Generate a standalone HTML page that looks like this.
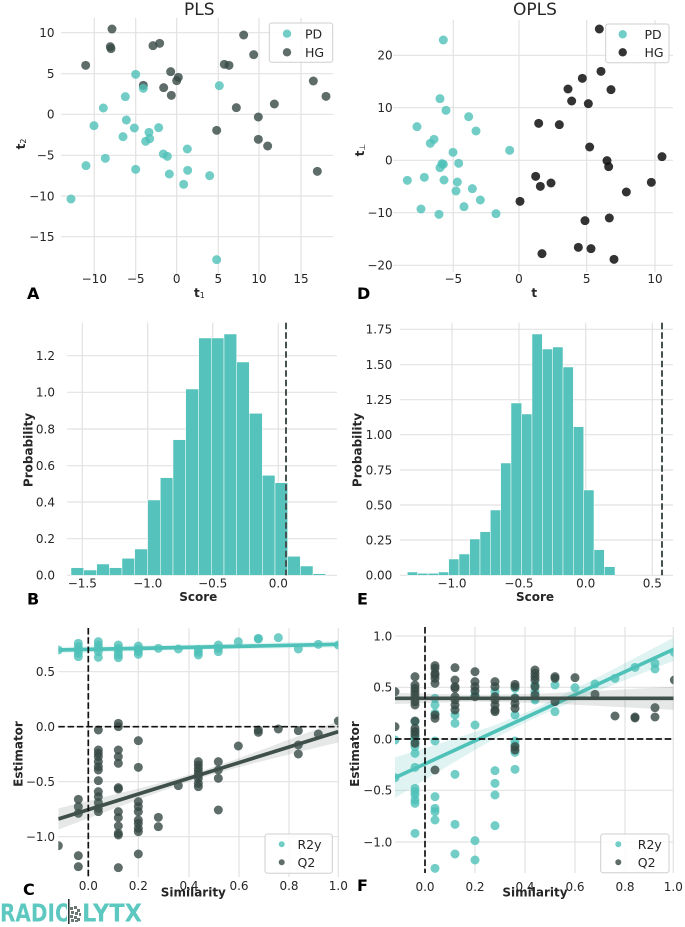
<!DOCTYPE html>
<html>
<head>
<meta charset="utf-8">
<style>
  html,body{margin:0;padding:0;background:#fff;}
  svg{display:block;}
  text{font-family:"DejaVu Sans","Liberation Sans",sans-serif;fill:#262626;}
  .tk{font-size:12px;}
  .lb{font-size:12px;font-weight:bold;}
  .pl{font-size:16px;font-weight:bold;fill:#000;}
  .tt{font-size:17px;}
  .lg{font-size:12.5px;}
</style>
</head>
<body>
<svg width="685" height="927" viewBox="0 0 685 927" xmlns="http://www.w3.org/2000/svg">
<defs>
  <clipPath id="clipC"><rect x="58.3" y="628" width="280" height="249"/></clipPath>
  <clipPath id="clipF"><rect x="395" y="627" width="278.5" height="246"/></clipPath>
</defs>
<rect width="685" height="927" fill="#fff"/>

<!-- ================= PANEL A ================= -->
<g stroke="#e2e2e2" stroke-width="1.2">
  <line x1="94.3" y1="18" x2="94.3" y2="280"/>
  <line x1="135.7" y1="18" x2="135.7" y2="280"/>
  <line x1="176.7" y1="18" x2="176.7" y2="280"/>
  <line x1="218.3" y1="18" x2="218.3" y2="280"/>
  <line x1="259" y1="18" x2="259" y2="280"/>
  <line x1="301" y1="18" x2="301" y2="280"/>
  <line x1="61" y1="32.7" x2="333" y2="32.7"/>
  <line x1="61" y1="73.7" x2="333" y2="73.7"/>
  <line x1="61" y1="114.3" x2="333" y2="114.3"/>
  <line x1="61" y1="155.3" x2="333" y2="155.3"/>
  <line x1="61" y1="196" x2="333" y2="196"/>
  <line x1="61" y1="236.7" x2="333" y2="236.7"/>
</g>
<text class="tt" x="199.3" y="15" text-anchor="middle">PLS</text>
<g text-anchor="middle">
  <text class="tk" x="94.3" y="283">−10</text>
  <text class="tk" x="135.7" y="283">−5</text>
  <text class="tk" x="176.7" y="283">0</text>
  <text class="tk" x="218.3" y="283">5</text>
  <text class="tk" x="259" y="283">10</text>
  <text class="tk" x="301" y="283">15</text>
</g>
<g text-anchor="end">
  <text class="tk" x="54.5" y="37">10</text>
  <text class="tk" x="54.5" y="78">5</text>
  <text class="tk" x="54.5" y="118.6">0</text>
  <text class="tk" x="54.5" y="159.6">−5</text>
  <text class="tk" x="54.5" y="200.3">−10</text>
  <text class="tk" x="54.5" y="241">−15</text>
</g>
<text class="lb" x="194" y="297">t<tspan font-size="8" font-weight="normal" dy="1">1</tspan></text>
<text class="lb" transform="rotate(-90 25 144)" x="25" y="144" text-anchor="middle">t<tspan font-size="8" font-weight="normal" dy="1">2</tspan></text>
<text class="pl" x="27" y="299">A</text>

<g transform="scale(0.33333)">
  <g fill="#364843" fill-opacity="0.8">
    <circle cx="336" cy="87" r="13.5"/><circle cx="331" cy="140" r="13.5"/><circle cx="333" cy="146" r="13.5"/>
    <circle cx="257" cy="196" r="13.5"/><circle cx="459" cy="137" r="13.5"/><circle cx="479" cy="130" r="13.5"/>
    <circle cx="430" cy="256" r="13.5"/><circle cx="512" cy="215" r="13.5"/><circle cx="535" cy="232" r="13.5"/>
    <circle cx="530" cy="242" r="13.5"/><circle cx="491" cy="263" r="13.5"/><circle cx="514" cy="286" r="13.5"/>
    <circle cx="731" cy="105" r="13.5"/><circle cx="761" cy="164" r="13.5"/><circle cx="673" cy="193" r="13.5"/>
    <circle cx="687" cy="196" r="13.5"/><circle cx="940" cy="243" r="13.5"/><circle cx="978" cy="289" r="13.5"/>
    <circle cx="823" cy="312" r="13.5"/><circle cx="709" cy="323" r="13.5"/><circle cx="775" cy="351" r="13.5"/>
    <circle cx="650" cy="391" r="13.5"/><circle cx="775" cy="418" r="13.5"/><circle cx="803" cy="438" r="13.5"/>
    <circle cx="952" cy="514" r="13.5"/>
  </g>
  <g fill="#4ec1b8" fill-opacity="0.8">
    <circle cx="407" cy="223" r="13.5"/><circle cx="430" cy="265" r="13.5"/><circle cx="376" cy="290" r="13.5"/>
    <circle cx="310" cy="324" r="13.5"/><circle cx="379" cy="360" r="13.5"/><circle cx="282" cy="377" r="13.5"/>
    <circle cx="403" cy="384" r="13.5"/><circle cx="447" cy="397" r="13.5"/><circle cx="476" cy="383" r="13.5"/>
    <circle cx="369" cy="410" r="13.5"/><circle cx="437" cy="424" r="13.5"/><circle cx="449" cy="416" r="13.5"/>
    <circle cx="490" cy="462" r="13.5"/><circle cx="502" cy="469" r="13.5"/><circle cx="562" cy="447" r="13.5"/>
    <circle cx="316" cy="475" r="13.5"/><circle cx="258" cy="497" r="13.5"/><circle cx="407" cy="508" r="13.5"/>
    <circle cx="508" cy="522" r="13.5"/><circle cx="563" cy="511" r="13.5"/><circle cx="629" cy="527" r="13.5"/>
    <circle cx="551" cy="553" r="13.5"/><circle cx="213" cy="597" r="13.5"/><circle cx="650" cy="779" r="13.5"/>
    <circle cx="658" cy="257" r="13.5"/>
  </g>
</g>
<rect x="269.3" y="23" width="63.4" height="39.3" rx="2.5" fill="#fff" fill-opacity="0.85" stroke="#cfcfcf" stroke-width="1"/>
<circle cx="287" cy="33.7" r="4.2" fill="#4ec1b8" fill-opacity="0.8"/>
<circle cx="287" cy="52.3" r="4.2" fill="#364843" fill-opacity="0.8"/>
<text class="lg" x="305" y="38.3">PD</text>
<text class="lg" x="305" y="56.8">HG</text>

<!-- ================= PANEL D ================= -->
<g stroke="#e2e2e2" stroke-width="1.2">
  <line x1="453.3" y1="20" x2="453.3" y2="272"/>
  <line x1="519" y1="20" x2="519" y2="272"/>
  <line x1="586.7" y1="20" x2="586.7" y2="272"/>
  <line x1="655" y1="20" x2="655" y2="272"/>
  <line x1="393" y1="55.3" x2="673" y2="55.3"/>
  <line x1="393" y1="107.7" x2="673" y2="107.7"/>
  <line x1="393" y1="160.3" x2="673" y2="160.3"/>
  <line x1="393" y1="212.7" x2="673" y2="212.7"/>
  <line x1="393" y1="265.3" x2="673" y2="265.3"/>
</g>
<text class="tt" x="535" y="15" text-anchor="middle">OPLS</text>
<g text-anchor="middle">
  <text class="tk" x="453.3" y="283">−5</text>
  <text class="tk" x="519" y="283">0</text>
  <text class="tk" x="586.7" y="283">5</text>
  <text class="tk" x="655" y="283">10</text>
</g>
<g text-anchor="end">
  <text class="tk" x="392.7" y="59.6">20</text>
  <text class="tk" x="392.7" y="112">10</text>
  <text class="tk" x="392.7" y="164.6">0</text>
  <text class="tk" x="392.7" y="217">−10</text>
  <text class="tk" x="392.7" y="269.6">−20</text>
</g>
<text class="lb" x="534.3" y="297" text-anchor="middle">t</text>
<text class="lb" transform="rotate(-90 364 150)" x="364" y="150" text-anchor="middle">t<tspan font-size="8" font-weight="normal" dy="1">⊥</tspan></text>
<text class="pl" x="357" y="299">D</text>

<g transform="translate(340,0) scale(0.33333)">
  <g fill="#4ec1b8" fill-opacity="0.8">
    <circle cx="310" cy="120" r="13.5"/><circle cx="300" cy="296" r="13.5"/><circle cx="318" cy="331" r="13.5"/>
    <circle cx="386" cy="350" r="13.5"/><circle cx="231" cy="380" r="13.5"/><circle cx="408" cy="393" r="13.5"/>
    <circle cx="282" cy="418" r="13.5"/><circle cx="271" cy="430" r="13.5"/><circle cx="339" cy="457" r="13.5"/>
    <circle cx="509" cy="451" r="13.5"/><circle cx="306" cy="491" r="13.5"/><circle cx="300" cy="503" r="13.5"/>
    <circle cx="310" cy="493" r="13.5"/><circle cx="356" cy="490" r="13.5"/><circle cx="202" cy="541" r="13.5"/>
    <circle cx="253" cy="532" r="13.5"/><circle cx="312" cy="540" r="13.5"/><circle cx="352" cy="546" r="13.5"/>
    <circle cx="348" cy="573" r="13.5"/><circle cx="397" cy="566" r="13.5"/><circle cx="372" cy="620" r="13.5"/>
    <circle cx="421" cy="600" r="13.5"/><circle cx="243" cy="627" r="13.5"/><circle cx="297" cy="643" r="13.5"/>
    <circle cx="468" cy="641" r="13.5"/>
  </g>
  <g fill="#111" fill-opacity="0.86">
    <circle cx="778" cy="87" r="13.5"/><circle cx="783" cy="214" r="13.5"/><circle cx="727" cy="235" r="13.5"/>
    <circle cx="684" cy="267" r="13.5"/><circle cx="813" cy="269" r="13.5"/><circle cx="695" cy="303" r="13.5"/>
    <circle cx="745" cy="311" r="13.5"/><circle cx="596" cy="370" r="13.5"/><circle cx="658" cy="374" r="13.5"/>
    <circle cx="749" cy="441" r="13.5"/><circle cx="801" cy="482" r="13.5"/><circle cx="806" cy="500" r="13.5"/>
    <circle cx="966" cy="470" r="13.5"/><circle cx="587" cy="529" r="13.5"/><circle cx="601" cy="559" r="13.5"/>
    <circle cx="633" cy="549" r="13.5"/><circle cx="859" cy="576" r="13.5"/><circle cx="934" cy="547" r="13.5"/>
    <circle cx="540" cy="604" r="13.5"/><circle cx="735" cy="662" r="13.5"/><circle cx="808" cy="654" r="13.5"/>
    <circle cx="715" cy="742" r="13.5"/><circle cx="753" cy="746" r="13.5"/><circle cx="606" cy="761" r="13.5"/>
    <circle cx="822" cy="778" r="13.5"/>
  </g>
</g>
<rect x="605.7" y="24" width="63.3" height="38.7" rx="2.5" fill="#fff" fill-opacity="0.85" stroke="#cfcfcf" stroke-width="1"/>
<circle cx="622.7" cy="34.3" r="4.2" fill="#4ec1b8" fill-opacity="0.8"/>
<circle cx="622.7" cy="52.3" r="4.2" fill="#111" fill-opacity="0.86"/>
<text class="lg" x="644.5" y="38.8">PD</text>
<text class="lg" x="644.5" y="56.8">HG</text>

<!-- ================= PANEL B ================= -->
<g stroke="#e2e2e2" stroke-width="1.2">
  <line x1="82.3" y1="322.7" x2="82.3" y2="575.3"/>
  <line x1="147.7" y1="322.7" x2="147.7" y2="575.3"/>
  <line x1="212.7" y1="322.7" x2="212.7" y2="575.3"/>
  <line x1="278.3" y1="322.7" x2="278.3" y2="575.3"/>
  <line x1="67" y1="575.3" x2="337" y2="575.3"/>
  <line x1="67" y1="538.7" x2="337" y2="538.7"/>
  <line x1="67" y1="502" x2="337" y2="502"/>
  <line x1="67" y1="465.7" x2="337" y2="465.7"/>
  <line x1="67" y1="429" x2="337" y2="429"/>
  <line x1="67" y1="392.3" x2="337" y2="392.3"/>
  <line x1="67" y1="355.7" x2="337" y2="355.7"/>
</g>
<g transform="translate(0,300) scale(0.33333)" fill="#55c3bc" stroke="#ffffff" stroke-width="1.5">
  <rect x="213" y="803" width="38" height="23"/>
  <rect x="251" y="810" width="39" height="16"/>
  <rect x="290" y="792" width="38" height="34"/>
  <rect x="328" y="803" width="38" height="23"/>
  <rect x="366" y="775" width="38" height="51"/>
  <rect x="404" y="747" width="39" height="79"/>
  <rect x="443" y="600" width="38" height="226"/>
  <rect x="481" y="533" width="38" height="293"/>
  <rect x="519" y="419" width="38" height="407"/>
  <rect x="557" y="267" width="39" height="559"/>
  <rect x="596" y="114" width="38" height="712"/>
  <rect x="634" y="114" width="38" height="712"/>
  <rect x="672" y="102" width="38" height="724"/>
  <rect x="710" y="186" width="38" height="640"/>
  <rect x="748" y="340" width="39" height="486"/>
  <rect x="787" y="526" width="38" height="300"/>
  <rect x="825" y="548" width="38" height="278"/>
  <rect x="863" y="769" width="38" height="57"/>
  <rect x="901" y="798" width="38" height="28"/>
  <rect x="939" y="821" width="38" height="5"/>
</g>
<line x1="286" y1="322.7" x2="286" y2="575.3" stroke="#44534f" stroke-width="2" stroke-dasharray="6.5,3"/>
<g text-anchor="middle">
  <text class="tk" x="82.3" y="587.5">−1.5</text>
  <text class="tk" x="147.7" y="587.5">−1.0</text>
  <text class="tk" x="212.7" y="587.5">−0.5</text>
  <text class="tk" x="278.3" y="587.5">0.0</text>
</g>
<g text-anchor="end">
  <text class="tk" x="55" y="579.6">0.0</text>
  <text class="tk" x="55" y="543">0.2</text>
  <text class="tk" x="55" y="506.3">0.4</text>
  <text class="tk" x="55" y="470">0.6</text>
  <text class="tk" x="55" y="433.3">0.8</text>
  <text class="tk" x="55" y="396.6">1.0</text>
  <text class="tk" x="55" y="360">1.2</text>
</g>
<text class="lb" x="198.3" y="601" text-anchor="middle">Score</text>
<text class="lb" transform="rotate(-90 32.5 450)" x="32.5" y="450" text-anchor="middle">Probability</text>
<text class="pl" x="27" y="604.5">B</text>

<!-- ================= PANEL E ================= -->
<g stroke="#e2e2e2" stroke-width="1.2">
  <line x1="452" y1="322.7" x2="452" y2="575.3"/>
  <line x1="519" y1="322.7" x2="519" y2="575.3"/>
  <line x1="585.7" y1="322.7" x2="585.7" y2="575.3"/>
  <line x1="652.3" y1="322.7" x2="652.3" y2="575.3"/>
  <line x1="400" y1="575.3" x2="673" y2="575.3"/>
  <line x1="400" y1="540" x2="673" y2="540"/>
  <line x1="400" y1="505" x2="673" y2="505"/>
  <line x1="400" y1="470" x2="673" y2="470"/>
  <line x1="400" y1="434.7" x2="673" y2="434.7"/>
  <line x1="400" y1="399.7" x2="673" y2="399.7"/>
  <line x1="400" y1="364.7" x2="673" y2="364.7"/>
  <line x1="400" y1="329.3" x2="673" y2="329.3"/>
</g>
<g transform="translate(340,300) scale(0.33333)" fill="#55c3bc" stroke="#ffffff" stroke-width="1.5">
  <rect x="202" y="816" width="31" height="10"/>
  <rect x="233" y="820" width="31" height="6"/>
  <rect x="264" y="820" width="31" height="6"/>
  <rect x="295" y="816" width="31" height="10"/>
  <rect x="326" y="777" width="31" height="49"/>
  <rect x="357" y="762" width="32" height="64"/>
  <rect x="389" y="717" width="31" height="109"/>
  <rect x="420" y="695" width="31" height="131"/>
  <rect x="451" y="630" width="31" height="196"/>
  <rect x="482" y="489" width="31" height="337"/>
  <rect x="513" y="309" width="32" height="517"/>
  <rect x="545" y="342" width="31" height="484"/>
  <rect x="576" y="102" width="31" height="724"/>
  <rect x="607" y="147" width="31" height="679"/>
  <rect x="638" y="141" width="31" height="685"/>
  <rect x="669" y="201" width="31" height="625"/>
  <rect x="700" y="380" width="31" height="446"/>
  <rect x="731" y="570" width="31" height="256"/>
  <rect x="762" y="749" width="31" height="77"/>
  <rect x="793" y="800" width="32" height="26"/>
</g>
<line x1="662" y1="322.7" x2="662" y2="575.3" stroke="#44534f" stroke-width="2" stroke-dasharray="6.5,3"/>
<g text-anchor="middle">
  <text class="tk" x="452" y="587.5">−1.0</text>
  <text class="tk" x="519" y="587.5">−0.5</text>
  <text class="tk" x="585.7" y="587.5">0.0</text>
  <text class="tk" x="652.3" y="587.5">0.5</text>
</g>
<g text-anchor="end">
  <text class="tk" x="392.3" y="579.6">0.00</text>
  <text class="tk" x="392.3" y="544.3">0.25</text>
  <text class="tk" x="392.3" y="509.3">0.50</text>
  <text class="tk" x="392.3" y="474.3">0.75</text>
  <text class="tk" x="392.3" y="439">1.00</text>
  <text class="tk" x="392.3" y="404">1.25</text>
  <text class="tk" x="392.3" y="369">1.50</text>
  <text class="tk" x="392.3" y="333.6">1.75</text>
</g>
<text class="lb" x="535" y="601" text-anchor="middle">Score</text>
<text class="lb" transform="rotate(-90 361.5 450)" x="361.5" y="450" text-anchor="middle">Probability</text>
<text class="pl" x="357" y="604.5">E</text>

<!-- ================= PANEL C ================= -->
<g stroke="#e2e2e2" stroke-width="1.2">
  <line x1="88.3" y1="628" x2="88.3" y2="877"/>
  <line x1="138.3" y1="628" x2="138.3" y2="877"/>
  <line x1="189" y1="628" x2="189" y2="877"/>
  <line x1="239" y1="628" x2="239" y2="877"/>
  <line x1="289" y1="628" x2="289" y2="877"/>
  <line x1="338.3" y1="628" x2="338.3" y2="877"/>
  <line x1="58" y1="671.7" x2="338" y2="671.7"/>
  <line x1="58" y1="726.7" x2="338" y2="726.7"/>
  <line x1="58" y1="781.7" x2="338" y2="781.7"/>
  <line x1="58" y1="836.7" x2="338" y2="836.7"/>
</g>
<g clip-path="url(#clipC)">
<g transform="translate(0,615) scale(0.33333)">
  <g fill="#4ec1b8" fill-opacity="0.8">
    <circle cx="175" cy="105" r="13.5"/>
    <circle cx="235" cy="85" r="13.5"/><circle cx="235" cy="95" r="13.5"/><circle cx="235" cy="105" r="13.5"/><circle cx="235" cy="115" r="13.5"/><circle cx="235" cy="125" r="13.5"/>
    <circle cx="295" cy="80" r="13.5"/><circle cx="295" cy="90" r="13.5"/><circle cx="295" cy="100" r="13.5"/><circle cx="295" cy="110" r="13.5"/><circle cx="295" cy="127" r="13.5"/>
    <circle cx="355" cy="90" r="13.5"/><circle cx="355" cy="100" r="13.5"/><circle cx="355" cy="110" r="13.5"/><circle cx="355" cy="120" r="13.5"/><circle cx="355" cy="128" r="13.5"/>
    <circle cx="415" cy="93" r="13.5"/><circle cx="415" cy="102" r="13.5"/><circle cx="415" cy="110" r="13.5"/><circle cx="415" cy="118" r="13.5"/>
    <circle cx="475" cy="100" r="13.5"/>
    <circle cx="535" cy="102" r="13.5"/>
    <circle cx="595" cy="103" r="13.5"/><circle cx="595" cy="112" r="13.5"/><circle cx="595" cy="120" r="13.5"/>
    <circle cx="655" cy="90" r="13.5"/><circle cx="655" cy="100" r="13.5"/><circle cx="655" cy="110" r="13.5"/>
    <circle cx="715" cy="80" r="13.5"/>
    <circle cx="775" cy="70" r="13.5"/><circle cx="775" cy="72" r="13.5"/>
    <circle cx="835" cy="68" r="13.5"/>
    <circle cx="895" cy="102" r="13.5"/>
    <circle cx="955" cy="88" r="13.5"/>
    <circle cx="1015" cy="90" r="13.5"/>
  </g>
  <path d="M175,95 L595,88 L1015,78 L1015,98 L595,104 L175,115 Z" fill="#4ec1b8" fill-opacity="0.15"/>
  <line x1="175" y1="105" x2="1015" y2="88" stroke="#4ec1b8" stroke-width="11"/>
  <g fill="#364843" fill-opacity="0.8">
    <circle cx="175" cy="692" r="13.5"/>
    <circle cx="235" cy="553" r="13.5"/><circle cx="235" cy="575" r="13.5"/><circle cx="235" cy="595" r="13.5"/><circle cx="235" cy="722" r="13.5"/><circle cx="235" cy="755" r="13.5"/>
    <circle cx="295" cy="345" r="13.5"/><circle cx="295" cy="405" r="13.5"/><circle cx="295" cy="415" r="13.5"/><circle cx="295" cy="425" r="13.5"/><circle cx="295" cy="440" r="13.5"/><circle cx="295" cy="455" r="13.5"/><circle cx="295" cy="465" r="13.5"/><circle cx="295" cy="497" r="13.5"/><circle cx="295" cy="530" r="13.5"/><circle cx="295" cy="545" r="13.5"/><circle cx="295" cy="563" r="13.5"/><circle cx="295" cy="580" r="13.5"/><circle cx="295" cy="590" r="13.5"/>
    <circle cx="355" cy="325" r="13.5"/><circle cx="355" cy="335" r="13.5"/><circle cx="355" cy="405" r="13.5"/><circle cx="355" cy="425" r="13.5"/><circle cx="355" cy="445" r="13.5"/><circle cx="355" cy="518" r="13.5"/><circle cx="355" cy="522" r="13.5"/><circle cx="355" cy="590" r="13.5"/><circle cx="355" cy="608" r="13.5"/><circle cx="355" cy="633" r="13.5"/><circle cx="355" cy="655" r="13.5"/><circle cx="355" cy="660" r="13.5"/><circle cx="355" cy="758" r="13.5"/>
    <circle cx="415" cy="377" r="13.5"/><circle cx="415" cy="457" r="13.5"/><circle cx="415" cy="560" r="13.5"/><circle cx="415" cy="575" r="13.5"/><circle cx="415" cy="590" r="13.5"/><circle cx="415" cy="615" r="13.5"/><circle cx="415" cy="625" r="13.5"/><circle cx="415" cy="640" r="13.5"/><circle cx="415" cy="650" r="13.5"/><circle cx="415" cy="717" r="13.5"/>
    <circle cx="475" cy="607" r="13.5"/><circle cx="475" cy="635" r="13.5"/>
    <circle cx="535" cy="512" r="13.5"/>
    <circle cx="595" cy="440" r="13.5"/><circle cx="595" cy="450" r="13.5"/><circle cx="595" cy="460" r="13.5"/><circle cx="595" cy="470" r="13.5"/><circle cx="595" cy="480" r="13.5"/><circle cx="595" cy="490" r="13.5"/><circle cx="595" cy="505" r="13.5"/><circle cx="595" cy="515" r="13.5"/>
    <circle cx="655" cy="440" r="13.5"/><circle cx="655" cy="465" r="13.5"/><circle cx="655" cy="490" r="13.5"/><circle cx="655" cy="585" r="13.5"/>
    <circle cx="715" cy="393" r="13.5"/>
    <circle cx="775" cy="345" r="13.5"/><circle cx="775" cy="352" r="13.5"/>
    <circle cx="835" cy="342" r="13.5"/>
    <circle cx="895" cy="347" r="13.5"/><circle cx="895" cy="390" r="13.5"/><circle cx="895" cy="417" r="13.5"/>
    <circle cx="955" cy="357" r="13.5"/>
    <circle cx="1015" cy="318" r="13.5"/>
  </g>
  <path d="M175,580 L280,554.4 L385,528.3 L490,501.2 L595,471 L700,435.7 L805,397.3 L910,357.9 L1015,318 L1015,382 L910,407.7 L805,433.7 L700,460.9 L595,491 L490,526.4 L385,564.7 L280,604.2 L175,644 Z" fill="#5f6f6a" fill-opacity="0.16"/>
  <line x1="175" y1="612" x2="1015" y2="350" stroke="#3f4f4a" stroke-width="11"/>
</g>
</g>
<g stroke="#111" stroke-width="1.7" stroke-dasharray="6.5,2.8">
  <line x1="88.3" y1="628" x2="88.3" y2="877"/>
  <line x1="58.3" y1="726.7" x2="338.3" y2="726.7"/>
</g>
<g text-anchor="middle">
  <text class="tk" x="88.3" y="890">0.0</text>
  <text class="tk" x="138.3" y="890">0.2</text>
  <text class="tk" x="189" y="890">0.4</text>
  <text class="tk" x="239" y="890">0.6</text>
  <text class="tk" x="289" y="890">0.8</text>
  <text class="tk" x="338.3" y="890">1.0</text>
</g>
<g text-anchor="end">
  <text class="tk" x="55" y="676">0.5</text>
  <text class="tk" x="55" y="731">0.0</text>
  <text class="tk" x="55" y="786">−0.5</text>
  <text class="tk" x="55" y="841">−1.0</text>
</g>
<text class="lb" x="193.3" y="896.5" text-anchor="middle">Similarity</text>
<text class="lb" transform="rotate(-90 22.5 754)" x="22.5" y="754" text-anchor="middle">Estimator</text>
<text class="pl" x="23" y="895">C</text>
<rect x="265" y="834" width="67.3" height="39.3" rx="2.5" fill="#fff" fill-opacity="0.85" stroke="#cfcfcf" stroke-width="1"/>
<circle cx="281.7" cy="844.3" r="3" fill="#4ec1b8" fill-opacity="0.8"/>
<circle cx="281.7" cy="862.3" r="3" fill="#364843" fill-opacity="0.8"/>
<text class="lg" x="297.5" y="848.8">R2y</text>
<text class="lg" x="297.5" y="866.8">Q2</text>

<!-- ================= PANEL F ================= -->
<g stroke="#e2e2e2" stroke-width="1.2">
  <line x1="425" y1="627" x2="425" y2="873"/>
  <line x1="475" y1="627" x2="475" y2="873"/>
  <line x1="525" y1="627" x2="525" y2="873"/>
  <line x1="575" y1="627" x2="575" y2="873"/>
  <line x1="625" y1="627" x2="625" y2="873"/>
  <line x1="673.3" y1="627" x2="673.3" y2="873"/>
  <line x1="395" y1="636" x2="673" y2="636"/>
  <line x1="395" y1="687.3" x2="673" y2="687.3"/>
  <line x1="395" y1="739" x2="673" y2="739"/>
  <line x1="395" y1="790.3" x2="673" y2="790.3"/>
  <line x1="395" y1="842" x2="673" y2="842"/>
</g>
<g clip-path="url(#clipF)">
<g transform="translate(340,615) scale(0.33333)">
  <g fill="#4ec1b8" fill-opacity="0.8">
    <circle cx="165" cy="375" r="13.5"/><circle cx="165" cy="488" r="13.5"/>
    <circle cx="225" cy="320" r="13.5"/><circle cx="225" cy="350" r="13.5"/><circle cx="225" cy="365" r="13.5"/><circle cx="225" cy="370" r="13.5"/><circle cx="225" cy="380" r="13.5"/><circle cx="225" cy="395" r="13.5"/><circle cx="225" cy="415" r="13.5"/><circle cx="225" cy="457" r="13.5"/><circle cx="225" cy="520" r="13.5"/><circle cx="225" cy="530" r="13.5"/><circle cx="225" cy="540" r="13.5"/><circle cx="225" cy="555" r="13.5"/><circle cx="225" cy="565" r="13.5"/><circle cx="225" cy="655" r="13.5"/>
    <circle cx="285" cy="250" r="13.5"/><circle cx="285" cy="270" r="13.5"/><circle cx="285" cy="295" r="13.5"/><circle cx="285" cy="378" r="13.5"/><circle cx="285" cy="545" r="13.5"/><circle cx="285" cy="580" r="13.5"/><circle cx="285" cy="590" r="13.5"/><circle cx="285" cy="615" r="13.5"/><circle cx="285" cy="760" r="13.5"/>
    <circle cx="345" cy="300" r="13.5"/><circle cx="345" cy="325" r="13.5"/><circle cx="345" cy="478" r="13.5"/><circle cx="345" cy="628" r="13.5"/><circle cx="345" cy="717" r="13.5"/>
    <circle cx="405" cy="240" r="13.5"/><circle cx="405" cy="330" r="13.5"/><circle cx="405" cy="677" r="13.5"/><circle cx="405" cy="735" r="13.5"/>
    <circle cx="465" cy="230" r="13.5"/><circle cx="465" cy="467" r="13.5"/><circle cx="465" cy="505" r="13.5"/><circle cx="465" cy="540" r="13.5"/><circle cx="465" cy="632" r="13.5"/>
    <circle cx="525" cy="220" r="13.5"/><circle cx="525" cy="248" r="13.5"/><circle cx="525" cy="300" r="13.5"/><circle cx="525" cy="378" r="13.5"/><circle cx="525" cy="390" r="13.5"/><circle cx="525" cy="412" r="13.5"/><circle cx="525" cy="463" r="13.5"/>
    <circle cx="585" cy="210" r="13.5"/><circle cx="585" cy="230" r="13.5"/><circle cx="585" cy="250" r="13.5"/><circle cx="585" cy="255" r="13.5"/>
    <circle cx="645" cy="210" r="13.5"/><circle cx="645" cy="290" r="13.5"/>
    <circle cx="705" cy="218" r="13.5"/>
    <circle cx="765" cy="207" r="13.5"/>
    <circle cx="825" cy="190" r="13.5"/>
    <circle cx="885" cy="157" r="13.5"/>
    <circle cx="945" cy="145" r="13.5"/><circle cx="945" cy="162" r="13.5"/>
    <circle cx="1003" cy="112" r="13.5"/>
  </g>
  <path d="M165,427 L266,395.9 L364,364.1 L462,331.1 L560,292.1 L670,239.2 L780,183.3 L890,126 L1005,66 L1005,136 L890,181.6 L780,225.9 L670,271.4 L560,320.1 L462,371.5 L364,428.9 L266,487.7 L165,549 Z" fill="#4ec1b8" fill-opacity="0.18"/>
  <line x1="165" y1="488" x2="1005" y2="101" stroke="#4ec1b8" stroke-width="11"/>
  <g fill="#364843" fill-opacity="0.8">
    <circle cx="165" cy="230" r="13.5"/><circle cx="165" cy="335" r="13.5"/>
    <circle cx="225" cy="185" r="13.5"/><circle cx="225" cy="210" r="13.5"/><circle cx="225" cy="220" r="13.5"/><circle cx="225" cy="230" r="13.5"/><circle cx="225" cy="240" r="13.5"/><circle cx="225" cy="250" r="13.5"/><circle cx="225" cy="260" r="13.5"/><circle cx="225" cy="270" r="13.5"/><circle cx="225" cy="318" r="13.5"/><circle cx="225" cy="340" r="13.5"/><circle cx="225" cy="350" r="13.5"/><circle cx="225" cy="360" r="13.5"/><circle cx="225" cy="385" r="13.5"/>
    <circle cx="285" cy="152" r="13.5"/><circle cx="285" cy="160" r="13.5"/><circle cx="285" cy="175" r="13.5"/><circle cx="285" cy="180" r="13.5"/><circle cx="285" cy="190" r="13.5"/><circle cx="285" cy="205" r="13.5"/><circle cx="285" cy="300" r="13.5"/><circle cx="285" cy="310" r="13.5"/><circle cx="285" cy="465" r="13.5"/>
    <circle cx="345" cy="158" r="13.5"/><circle cx="345" cy="195" r="13.5"/><circle cx="345" cy="215" r="13.5"/><circle cx="345" cy="220" r="13.5"/><circle cx="345" cy="245" r="13.5"/><circle cx="345" cy="255" r="13.5"/><circle cx="345" cy="270" r="13.5"/><circle cx="345" cy="285" r="13.5"/>
    <circle cx="405" cy="170" r="13.5"/><circle cx="405" cy="200" r="13.5"/><circle cx="405" cy="215" r="13.5"/><circle cx="405" cy="228" r="13.5"/><circle cx="405" cy="245" r="13.5"/>
    <circle cx="465" cy="200" r="13.5"/><circle cx="465" cy="215" r="13.5"/><circle cx="465" cy="245" r="13.5"/><circle cx="465" cy="255" r="13.5"/><circle cx="465" cy="270" r="13.5"/><circle cx="465" cy="285" r="13.5"/><circle cx="465" cy="290" r="13.5"/>
    <circle cx="525" cy="208" r="13.5"/><circle cx="525" cy="215" r="13.5"/><circle cx="525" cy="250" r="13.5"/><circle cx="525" cy="265" r="13.5"/><circle cx="525" cy="280" r="13.5"/><circle cx="525" cy="395" r="13.5"/><circle cx="525" cy="405" r="13.5"/>
    <circle cx="585" cy="165" r="13.5"/><circle cx="585" cy="175" r="13.5"/><circle cx="585" cy="185" r="13.5"/><circle cx="585" cy="195" r="13.5"/><circle cx="585" cy="215" r="13.5"/><circle cx="585" cy="240" r="13.5"/>
    <circle cx="645" cy="185" r="13.5"/><circle cx="645" cy="190" r="13.5"/><circle cx="645" cy="260" r="13.5"/>
    <circle cx="705" cy="188" r="13.5"/>
    <circle cx="765" cy="238" r="13.5"/>
    <circle cx="825" cy="303" r="13.5"/>
    <circle cx="885" cy="306" r="13.5"/><circle cx="885" cy="309" r="13.5"/>
    <circle cx="945" cy="278" r="13.5"/><circle cx="945" cy="306" r="13.5"/>
    <circle cx="1003" cy="195" r="13.5"/>
  </g>
  <path d="M165,233 L400,240 L600,236 L800,226 L1005,215 L1005,285 L800,274 L600,264 L400,260 L165,267 Z" fill="#5f6f6a" fill-opacity="0.16"/>
  <line x1="165" y1="250" x2="1005" y2="250" stroke="#3f4f4a" stroke-width="11"/>
</g>
</g>
<g stroke="#111" stroke-width="1.7" stroke-dasharray="6.5,2.8">
  <line x1="425" y1="627" x2="425" y2="873"/>
  <line x1="395" y1="739" x2="673.5" y2="739"/>
</g>
<g text-anchor="middle">
  <text class="tk" x="425" y="891">0.0</text>
  <text class="tk" x="475" y="891">0.2</text>
  <text class="tk" x="525" y="891">0.4</text>
  <text class="tk" x="575" y="891">0.6</text>
  <text class="tk" x="625" y="891">0.8</text>
  <text class="tk" x="673.3" y="891">1.0</text>
</g>
<g text-anchor="end">
  <text class="tk" x="392.3" y="640.3">1.0</text>
  <text class="tk" x="392.3" y="691.6">0.5</text>
  <text class="tk" x="392.3" y="743.3">0.0</text>
  <text class="tk" x="392.3" y="794.6">−0.5</text>
  <text class="tk" x="392.3" y="846.3">−1.0</text>
</g>
<text class="lb" x="535" y="896.5" text-anchor="middle">Similarity</text>
<text class="lb" transform="rotate(-90 359 754)" x="359" y="754" text-anchor="middle">Estimator</text>
<text class="pl" x="357" y="891">F</text>
<rect x="600.7" y="834" width="68.3" height="38.7" rx="2.5" fill="#fff" fill-opacity="0.85" stroke="#cfcfcf" stroke-width="1"/>
<circle cx="618.3" cy="844.3" r="3" fill="#4ec1b8" fill-opacity="0.8"/>
<circle cx="618.3" cy="862.3" r="3" fill="#364843" fill-opacity="0.8"/>
<text class="lg" x="637.8" y="848.8">R2y</text>
<text class="lg" x="637.8" y="866.8">Q2</text>

<!-- ================= LOGO ================= -->
<text x="0" y="921.7" font-size="25" font-weight="bold" style="fill:#5cc8c0" textLength="72" lengthAdjust="spacingAndGlyphs">RADIO</text>
<rect x="67" y="899" width="15" height="25" fill="#fff"/>
<rect x="68" y="899" width="1.6" height="25" fill="#2d3a37"/>
<g fill="#6b7774">
  <rect x="70" y="907" width="3" height="3"/><rect x="74" y="906" width="3" height="3"/><rect x="77" y="909" width="3" height="3"/>
  <rect x="71" y="911" width="3" height="3"/><rect x="75" y="912" width="3" height="3"/><rect x="79" y="913" width="2" height="3"/>
  <rect x="70" y="915" width="3" height="3"/><rect x="74" y="916" width="3" height="3"/><rect x="77" y="918" width="3" height="3"/>
  <rect x="71" y="919" width="3" height="3"/><rect x="75" y="920" width="3" height="2"/>
</g>
<text x="82" y="921.7" font-size="25" font-weight="bold" style="fill:#5cc8c0" textLength="60" lengthAdjust="spacingAndGlyphs">LYTX</text>
</svg>
</body>
</html>
